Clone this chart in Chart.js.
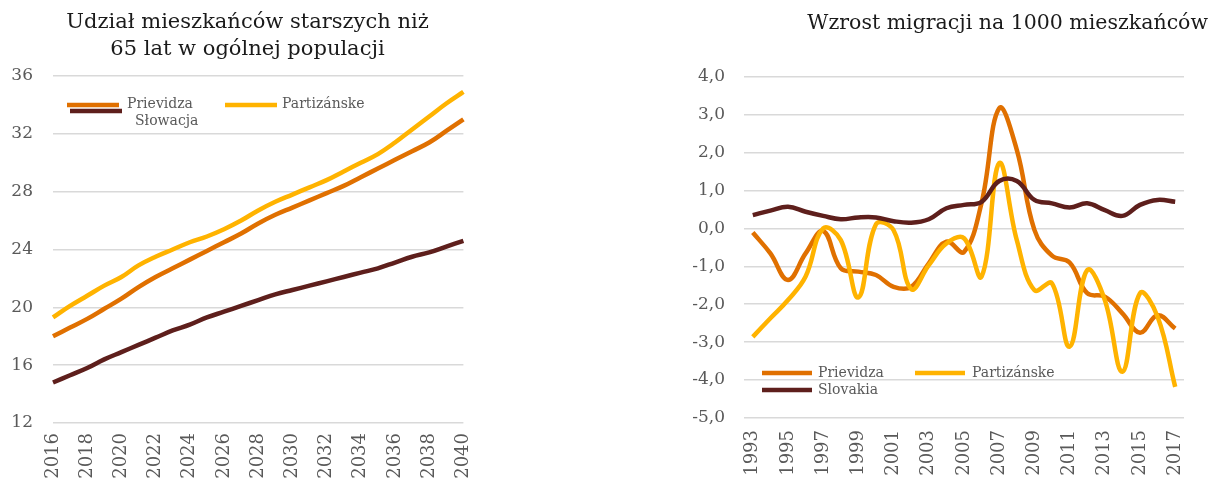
<!DOCTYPE html>
<html><head><meta charset="utf-8">
<script src="https://cdn.jsdelivr.net/npm/chart.js@4"></script>
<style>
html,body{margin:0;padding:0;background:#fff;overflow:hidden;width:1213px;height:479px}
#c1{position:absolute;left:0;top:0}
#c2{position:absolute;left:640px;top:0}
</style></head><body>
<canvas id="c1" width="495" height="479"></canvas>
<canvas id="c2" width="573" height="479"></canvas>
<script>
// ---- Left chart data ----
const yearsA = ['2016','2017','2018','2019','2020','2021','2022','2023','2024','2025','2026','2027','2028','2029','2030','2031','2032','2033','2034','2035','2036','2037','2038','2039','2040'];
const prievidzaA = [18.0,18.6,19.2,19.9,20.6,21.4,22.1,22.7,23.3,23.9,24.5,25.1,25.8,26.4,26.9,27.4,27.9,28.4,29.0,29.6,30.2,30.8,31.4,32.2,33.0];
const partizanskeA = [19.3,20.1,20.8,21.5,22.1,22.9,23.5,24.0,24.5,24.9,25.4,26.0,26.7,27.3,27.8,28.3,28.8,29.4,30.0,30.6,31.4,32.3,33.2,34.1,34.9];
const slovakiaA = [14.8,15.3,15.8,16.4,16.9,17.4,17.9,18.4,18.8,19.3,19.7,20.1,20.5,20.9,21.2,21.5,21.8,22.1,22.4,22.7,23.1,23.5,23.8,24.2,24.6];
const labelsA = ['Prievidza','Partizánske','Słowacja'];
const titleA = ['Udział mieszkańców starszych niż','65 lat w ogólnej populacji'];

// ---- Right chart data ----
const yearsB = ['1993','1994','1995','1996','1997','1998','1999','2000','2001','2002','2003','2004','2005','2006','2007','2008','2009','2010','2011','2012','2013','2014','2015','2016','2017'];
const prievidzaB = [-0.11,-0.66,-1.36,-0.66,-0.07,-1.05,-1.14,-1.23,-1.54,-1.54,-0.92,-0.35,-0.62,0.68,3.17,2.07,-0.04,-0.72,-0.9,-1.71,-1.8,-2.24,-2.75,-2.29,-2.64];
const partizanskeB = [-2.86,-2.37,-1.89,-1.27,0.0,-0.31,-1.82,0.11,-0.05,-1.6,-0.97,-0.4,-0.26,-1.27,1.72,-0.31,-1.63,-1.45,-3.12,-1.1,-1.89,-3.78,-1.71,-2.33,-4.18];
const slovakiaB = [0.35,0.47,0.57,0.44,0.33,0.24,0.29,0.29,0.19,0.15,0.24,0.53,0.62,0.7,1.25,1.25,0.75,0.66,0.55,0.66,0.48,0.33,0.62,0.75,0.70];
const labelsB = ['Prievidza','Partizánske','Slovakia'];
const titleB = 'Wzrost migracji na 1000 mieszkańców';

const colors = ['#E07000','#FFB300','#5E1F1C'];
const FONT = "'DejaVu Serif', serif";
const GRID = '#D9D9D9';
const TXT = '#595959';

const placedLegend = {
  id: 'placedLegend',
  afterDraw(chart, args, opts) {
    if (!opts || !opts.items) return;
    const ctx = chart.ctx;
    ctx.save();
    ctx.font = opts.font;
    ctx.textBaseline = 'middle';
    ctx.textAlign = 'left';
    ctx.lineCap = 'butt';
    opts.items.forEach(it => {
      const ds = chart.data.datasets[it.ds];
      ctx.strokeStyle = ds.borderColor;
      ctx.lineWidth = opts.lineWidth;
      ctx.beginPath(); ctx.moveTo(it.x, it.y); ctx.lineTo(it.x + opts.sample, it.y); ctx.stroke();
      ctx.fillStyle = opts.color;
      ctx.fillText(ds.label, it.tx, it.ty);
    });
    ctx.restore();
  }
};
Chart.register(placedLegend);

function mkDatasets(labels, series) {
  return series.map((d, i) => ({
    label: labels[i], data: d, borderColor: colors[i], backgroundColor: colors[i],
    borderWidth: 4.5, pointRadius: 0, tension: 0.4, fill: false, order: 3 - i,
    borderCapStyle: 'butt'
  }));
}

new Chart(document.getElementById('c1'), {
  type: 'line',
  data: { labels: yearsA, datasets: mkDatasets(labelsA, [prievidzaA, partizanskeA, slovakiaA]) },
  options: {
    responsive: false, animation: false,
    layout: { padding: 0 },
    plugins: {
      legend: { display: false }, tooltip: { enabled: false },
      title: { display: true, text: titleA, color: '#1A1A1A', font: { family: FONT, size: 21, weight: 'normal', lineHeight: 1.3 }, padding: { top: 9, bottom: 12.4 } },
      placedLegend: {
        font: "14px " + FONT, color: TXT, lineWidth: 4.5, sample: 52,
        items: [
          { ds: 0, x: 67, y: 105, tx: 127, ty: 104 },
          { ds: 1, x: 225, y: 105, tx: 282, ty: 104 },
          { ds: 2, x: 70, y: 111, tx: 135, ty: 121 }
        ]
      }
    },
    scales: {
      x: {
        grid: { display: false, drawTicks: false }, border: { display: false },
        ticks: { autoSkip: false, maxRotation: 90, minRotation: 90, padding: 10, color: TXT, font: { family: FONT, size: 18 },
          callback(v, i) { return i % 2 === 0 ? this.getLabelForValue(v) : ''; } },
        afterFit(s) { s.height = 56; }
      },
      y: {
        min: 12, max: 36,
        grid: { color: GRID, lineWidth: 1.5, drawTicks: false }, border: { display: false },
        ticks: { stepSize: 4, padding: 20, color: TXT, font: { family: FONT, size: 17 } },
        afterFit(s) { s.width = 53; }
      },
      r: {
        position: 'right', grid: { display: false, drawTicks: false }, border: { display: false },
        ticks: { display: false }, afterFit(s) { s.width = 8; }
      }
    }
  }
});

new Chart(document.getElementById('c2'), {
  type: 'line',
  data: { labels: yearsB, datasets: mkDatasets(labelsB, [prievidzaB, partizanskeB, slovakiaB]) },
  options: {
    responsive: false, animation: false,
    layout: { padding: { right: 5 } },
    plugins: {
      legend: { display: false }, tooltip: { enabled: false },
      title: { display: true, text: titleB, align: 'end', color: '#1A1A1A', font: { family: FONT, size: 20.5, weight: 'normal', lineHeight: 1.2 }, padding: { top: 11, bottom: 41.1 } },
      placedLegend: {
        font: "14px " + FONT, color: TXT, lineWidth: 4.5, sample: 50,
        items: [
          { ds: 0, x: 122, y: 373, tx: 178, ty: 373 },
          { ds: 1, x: 275, y: 373, tx: 332, ty: 373 },
          { ds: 2, x: 122, y: 390, tx: 178, ty: 390 }
        ]
      }
    },
    scales: {
      x: {
        offset: true,
        grid: { display: false, drawTicks: false }, border: { display: false },
        ticks: { autoSkip: false, maxRotation: 90, minRotation: 90, padding: 12, color: TXT, font: { family: FONT, size: 18 },
          callback(v, i) { return i % 2 === 0 ? this.getLabelForValue(v) : ''; } },
        afterFit(s) { s.height = 61; }
      },
      y: {
        min: -5, max: 4,
        grid: { color: GRID, lineWidth: 1.5, drawTicks: false }, border: { display: false },
        ticks: { stepSize: 1, padding: 19, color: TXT, font: { family: FONT, size: 17 },
          callback(v) { return v.toFixed(1).replace('.', ','); } },
        afterFit(s) { s.width = 104; }
      },
      r: {
        position: 'right', grid: { display: false, drawTicks: false }, border: { display: false },
        ticks: { display: false }, afterFit(s) { s.width = 24; }
      }
    }
  }
});
</script>
</body></html>
